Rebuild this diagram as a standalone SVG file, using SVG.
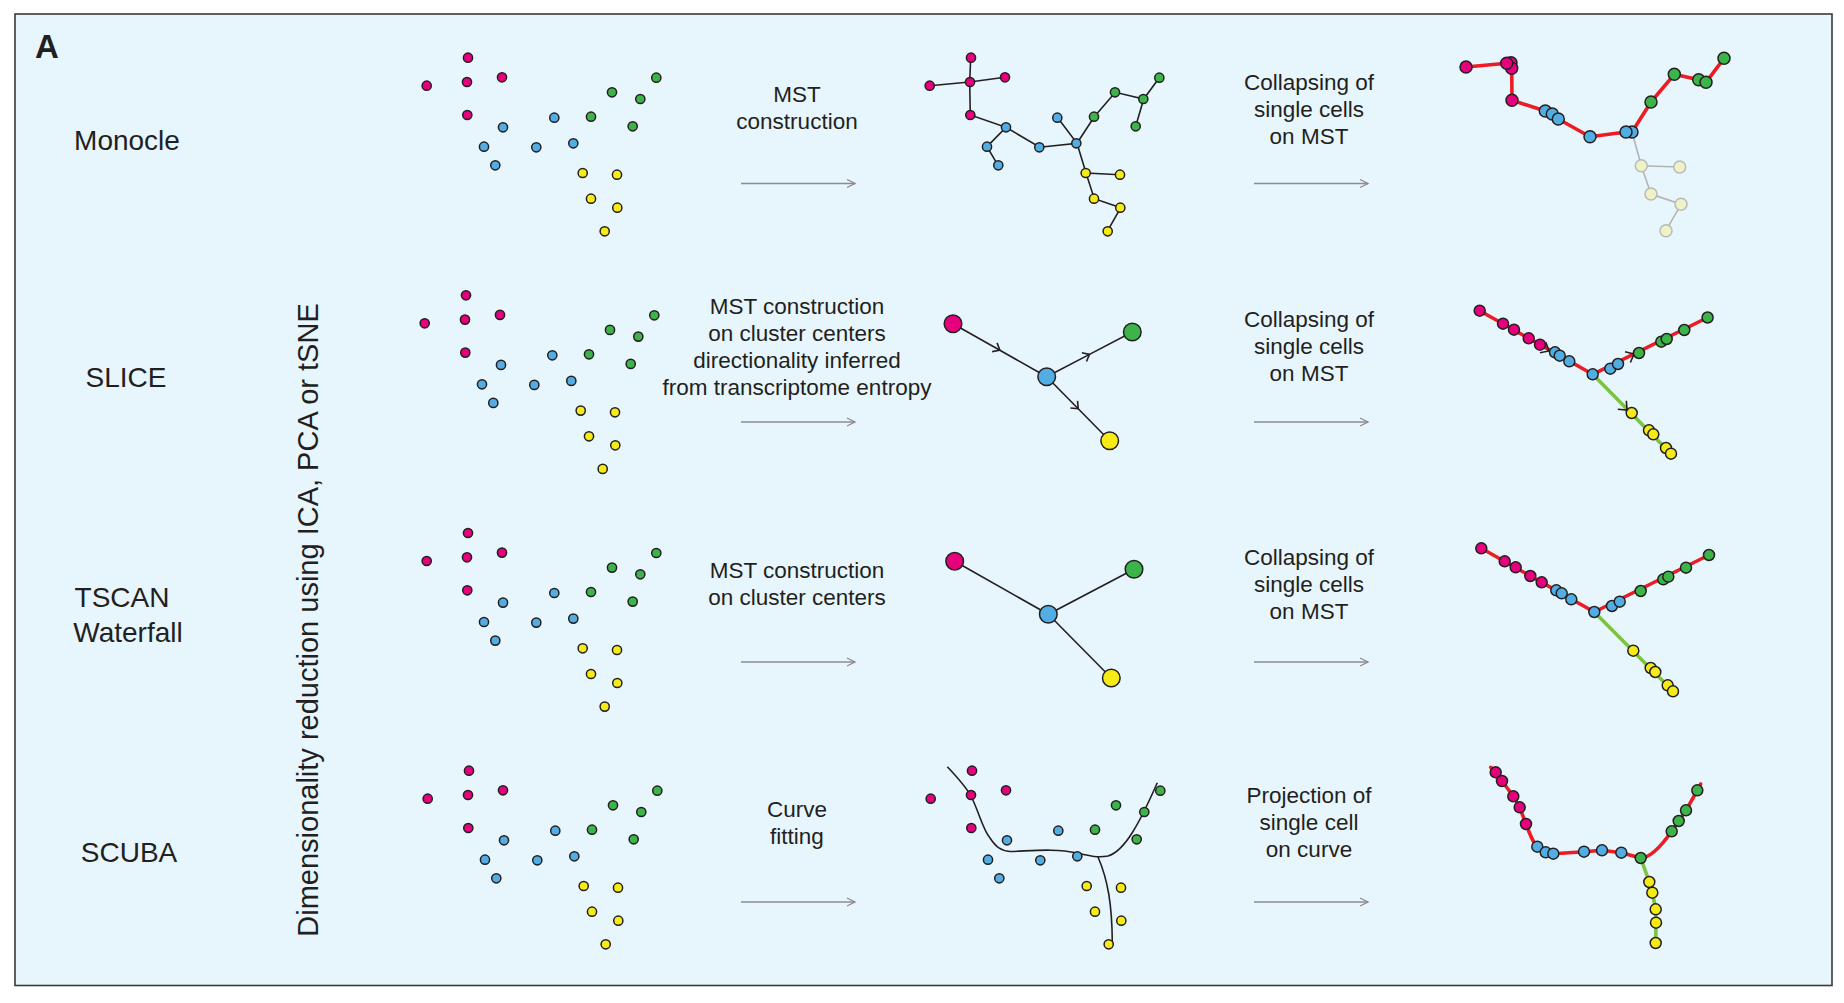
<svg xmlns="http://www.w3.org/2000/svg" xmlns:xlink="http://www.w3.org/1999/xlink" width="1844" height="1003" viewBox="0 0 1844 1003">
<style>
text{font-family:"Liberation Sans",Arial,sans-serif;fill:#231f20}
.lab{font-size:28px;text-anchor:middle}
.mid{font-size:22.5px;text-anchor:middle}
.m{fill:#e6007e}.b{fill:#52ade3}.g{fill:#3cb449}.y{fill:#f6eb16}
.dot circle{stroke:#231f20;stroke-width:1.5}
.edge{stroke:#231f20;stroke-width:1.6;fill:none}
.red{stroke:#ed1c24;stroke-width:3.6;fill:none;stroke-linejoin:round;stroke-linecap:round}
.grn{stroke:#7dc242;stroke-width:3.6;fill:none;stroke-linecap:round}
.arr{stroke:#8c8c8c;stroke-width:1.3;fill:none}
.fade circle{fill:#eef2c6;stroke:#b9b9b9;stroke-width:1.5}
.fline{stroke:#b3b3b3;stroke-width:1.6;fill:none}
.chev{stroke:#231f20;stroke-width:1.6;fill:none}
</style>
<defs>
<marker id="ah" viewBox="0 0 10 10" refX="9" refY="5" markerWidth="10" markerHeight="10" markerUnits="userSpaceOnUse" orient="auto">
<path d="M1,1 L9,5 L1,9" stroke="#8c8c8c" stroke-width="1.3" fill="none"/>
</marker>
<marker id="cv" viewBox="-8 -6 10 12" refX="0" refY="0" markerWidth="10" markerHeight="12" markerUnits="userSpaceOnUse" orient="auto">
<path d="M-6,-5 L0,0 L-6,5" stroke="#231f20" stroke-width="1.6" fill="none"/>
</marker>
<path id="chv" d="M-7,-6 L0,0 L-7,6" class="chev"/>
<g id="cells" class="dot">
<circle class="m" cx="468" cy="57.7" r="4.6"/><circle class="m" cx="426.7" cy="85.7" r="4.6"/><circle class="m" cx="467" cy="82" r="4.6"/><circle class="m" cx="502" cy="77.3" r="4.6"/><circle class="m" cx="467.3" cy="115" r="4.6"/>
<circle class="b" cx="503" cy="127.3" r="4.6"/><circle class="b" cx="484" cy="146.7" r="4.6"/><circle class="b" cx="495.3" cy="165.3" r="4.6"/><circle class="b" cx="536.3" cy="147.3" r="4.6"/><circle class="b" cx="554.3" cy="117.7" r="4.6"/><circle class="b" cx="573.3" cy="143.3" r="4.6"/>
<circle class="g" cx="591" cy="116.7" r="4.6"/><circle class="g" cx="612" cy="92.3" r="4.6"/><circle class="g" cx="640.3" cy="99" r="4.6"/><circle class="g" cx="656.3" cy="77.7" r="4.6"/><circle class="g" cx="632.7" cy="126.3" r="4.6"/>
<circle class="y" cx="582.7" cy="173" r="4.6"/><circle class="y" cx="617" cy="174.7" r="4.6"/><circle class="y" cx="591" cy="198.7" r="4.6"/><circle class="y" cx="617.3" cy="207.7" r="4.6"/><circle class="y" cx="604.7" cy="231.3" r="4.6"/>
</g>
</defs>
<rect x="0" y="0" width="1844" height="1003" fill="#ffffff"/>
<rect id="frame" x="15" y="14" width="1817" height="971.5" fill="#e7f6fd" stroke="#3a3a3a" stroke-width="1.6"/>
<text x="35" y="58" style="font-size:33px;font-weight:bold">A</text>

<g id="labels">
<text class="lab" x="127" y="150">Monocle</text>
<text class="lab" x="126" y="387">SLICE</text>
<text class="lab" x="122" y="607">TSCAN</text>
<text class="lab" x="128" y="642">Waterfall</text>
<text class="lab" x="129" y="862">SCUBA</text>
<text class="lab" transform="translate(318,620) rotate(-90)" style="font-size:29px">Dimensionality reduction using ICA, PCA or tSNE</text>
</g>

<g id="scatter">
<use href="#cells"/>
<use href="#cells" transform="translate(-2,237.6)"/>
<use href="#cells" transform="translate(0,475.3)"/>
<use href="#cells" transform="translate(1,713)"/>
</g>

<g id="step1-text">
<text class="mid" x="797" y="102">MST</text>
<text class="mid" x="797" y="129">construction</text>
<text class="mid" x="797" y="314">MST construction</text>
<text class="mid" x="797" y="341">on cluster centers</text>
<text class="mid" x="797" y="368">directionality inferred</text>
<text class="mid" x="797" y="395">from transcriptome entropy</text>
<text class="mid" x="797" y="578">MST construction</text>
<text class="mid" x="797" y="605">on cluster centers</text>
<text class="mid" x="797" y="817">Curve</text>
<text class="mid" x="797" y="844">fitting</text>
</g>
<g id="step2-text">
<text class="mid" x="1309" y="90">Collapsing of</text>
<text class="mid" x="1309" y="117">single cells</text>
<text class="mid" x="1309" y="144">on MST</text>
<text class="mid" x="1309" y="327">Collapsing of</text>
<text class="mid" x="1309" y="354">single cells</text>
<text class="mid" x="1309" y="381">on MST</text>
<text class="mid" x="1309" y="565">Collapsing of</text>
<text class="mid" x="1309" y="592">single cells</text>
<text class="mid" x="1309" y="619">on MST</text>
<text class="mid" x="1309" y="803">Projection of</text>
<text class="mid" x="1309" y="830">single cell</text>
<text class="mid" x="1309" y="857">on curve</text>
</g>

<g id="connectors">
<line class="arr" x1="741" y1="183.5" x2="855" y2="183.5" marker-end="url(#ah)"/>
<line class="arr" x1="1254" y1="183.5" x2="1368" y2="183.5" marker-end="url(#ah)"/>
<line class="arr" x1="741" y1="422" x2="855" y2="422" marker-end="url(#ah)"/>
<line class="arr" x1="1254" y1="422" x2="1368" y2="422" marker-end="url(#ah)"/>
<line class="arr" x1="741" y1="662" x2="855" y2="662" marker-end="url(#ah)"/>
<line class="arr" x1="1254" y1="662" x2="1368" y2="662" marker-end="url(#ah)"/>
<line class="arr" x1="741" y1="902" x2="855" y2="902" marker-end="url(#ah)"/>
<line class="arr" x1="1254" y1="902" x2="1368" y2="902" marker-end="url(#ah)"/>
</g>

<g id="monocle-mst">
<path class="edge" d="M970.7,57.7 L969.7,82 M929.7,85.7 L969.7,82 L1005,77.3 M969.7,82 L970.3,115 L1006,127.3 L987,146.7 L998,165.3 M1006,127.3 L1039.7,147.3 L1077,143.3 L1057.7,117.7 M1077,143.3 L1094.3,116.7 L1115.3,92.3 L1143.7,99 L1159.3,77.7 M1143.7,99 L1135.7,126.3 M1077,143.3 L1086,173 L1119.7,174.7 M1086,173 L1094.3,198.7 L1120.7,207.7 L1107.3,231.3"/>
<use href="#cells" transform="translate(503,0)"/>
</g>

<g id="monocle-collapsed">
<path class="fline" d="M1632,132 L1641.3,165.7 L1679.7,167 M1641.3,165.7 L1651,194 L1681,204.3 L1666,230.7"/>
<g class="fade">
<circle cx="1641.3" cy="165.7" r="6"/><circle cx="1679.7" cy="167" r="6"/><circle cx="1651" cy="194" r="6"/><circle cx="1681" cy="204.3" r="6"/><circle cx="1666" cy="230.7" r="6"/>
</g>
<path class="red" d="M1466,67 L1506.7,63.3 L1511.7,68.3 L1512,100.3 L1545.3,111 L1552.3,114 L1558.3,119 L1590,136.7 L1626,132 L1632,132 L1651,102 L1674.3,74.3 L1698.7,79.7 L1706,82.3 L1724,58.3"/>
<g class="dot">
<circle class="m" cx="1466" cy="67" r="6"/><circle class="m" cx="1511" cy="62.7" r="6"/><circle class="m" cx="1511.7" cy="68.3" r="6"/><circle class="m" cx="1506.7" cy="63.3" r="6"/><circle class="m" cx="1512" cy="100.3" r="6"/>
<circle class="b" cx="1545.3" cy="111" r="6"/><circle class="b" cx="1552.3" cy="114" r="6"/><circle class="b" cx="1558.3" cy="119" r="6"/><circle class="b" cx="1590" cy="136.7" r="6"/><circle class="b" cx="1632" cy="132" r="6"/><circle class="b" cx="1626" cy="132" r="6"/>
<circle class="g" cx="1651" cy="102" r="6"/><circle class="g" cx="1674.3" cy="74.3" r="6"/><circle class="g" cx="1698.7" cy="79.7" r="6"/><circle class="g" cx="1706" cy="82.3" r="6"/><circle class="g" cx="1724" cy="58.3" r="6"/>
</g>
</g>

<g id="slice-clusters">
<path class="edge" d="M953,323.7 L999.85,350.2 L1046.7,376.7" marker-mid="url(#cv)"/>
<path class="edge" d="M1046.7,376.7 L1089.5,354.35 L1132.3,332" marker-mid="url(#cv)"/>
<path class="edge" d="M1046.7,376.7 L1078.2,408.7 L1109.7,440.7" marker-mid="url(#cv)"/>
<g class="dot">
<circle class="m" cx="953" cy="323.7" r="8.8"/><circle class="b" cx="1046.7" cy="376.7" r="8.8"/><circle class="g" cx="1132.3" cy="332" r="8.8"/><circle class="y" cx="1109.7" cy="440.7" r="8.8"/>
</g>
</g>

<g id="slice-collapsed">
<path class="grn" d="M1592.7,374.3 L1671,453.7"/>
<path class="red" d="M1479.7,310.7 L1592.7,374.3 L1707.6,317.5"/>
<use href="#chv" transform="translate(1549,351) rotate(29.4)"/>
<use href="#chv" transform="translate(1634,354) rotate(-26.4)"/>
<use href="#chv" transform="translate(1627,410) rotate(45.4)"/>
<g class="dot">
<circle class="m" cx="1479.7" cy="310.7" r="5.5"/><circle class="m" cx="1503" cy="323.7" r="5.5"/><circle class="m" cx="1514" cy="329.7" r="5.5"/><circle class="m" cx="1528.7" cy="338.3" r="5.5"/><circle class="m" cx="1540" cy="344.7" r="5.5"/>
<circle class="b" cx="1555" cy="352.3" r="5.5"/><circle class="b" cx="1559.7" cy="355.7" r="5.5"/><circle class="b" cx="1569.3" cy="361.3" r="5.5"/><circle class="b" cx="1592.7" cy="374.3" r="5.5"/><circle class="b" cx="1610.3" cy="368.7" r="5.5"/><circle class="b" cx="1618" cy="364" r="5.5"/>
<circle class="g" cx="1639" cy="353" r="5.5"/><circle class="g" cx="1661.3" cy="341.7" r="5.5"/><circle class="g" cx="1666.7" cy="339" r="5.5"/><circle class="g" cx="1684.3" cy="330" r="5.5"/><circle class="g" cx="1707.6" cy="317.5" r="5.5"/>
<circle class="y" cx="1631.7" cy="413" r="5.5"/><circle class="y" cx="1649" cy="430.3" r="5.5"/><circle class="y" cx="1653.3" cy="434.3" r="5.5"/><circle class="y" cx="1666" cy="448" r="5.5"/><circle class="y" cx="1671" cy="453.7" r="5.5"/>
</g>
</g>

<g id="tscan-clusters">
<path class="edge" d="M954.7,561.3 L1048.3,614.3 L1134,569.3 M1048.3,614.3 L1111.3,678"/>
<g class="dot">
<circle class="m" cx="954.7" cy="561.3" r="8.8"/><circle class="b" cx="1048.3" cy="614.3" r="8.8"/><circle class="g" cx="1134" cy="569.3" r="8.8"/><circle class="y" cx="1111.3" cy="678" r="8.8"/>
</g>
</g>

<g id="tscan-collapsed">
<path class="grn" d="M1594.3,612 L1673,691.3"/>
<path class="red" d="M1481.3,548.3 L1594.3,612 L1709,555"/>
<g class="dot">
<circle class="m" cx="1481.3" cy="548.3" r="5.5"/><circle class="m" cx="1504.7" cy="561.3" r="5.5"/><circle class="m" cx="1515.7" cy="567.3" r="5.5"/><circle class="m" cx="1530.3" cy="576" r="5.5"/><circle class="m" cx="1541.7" cy="582.3" r="5.5"/>
<circle class="b" cx="1556.3" cy="590.3" r="5.5"/><circle class="b" cx="1561.7" cy="593.3" r="5.5"/><circle class="b" cx="1571.3" cy="599.3" r="5.5"/><circle class="b" cx="1594.3" cy="612" r="5.5"/><circle class="b" cx="1612" cy="606" r="5.5"/><circle class="b" cx="1619.7" cy="601.7" r="5.5"/>
<circle class="g" cx="1640.7" cy="591" r="5.5"/><circle class="g" cx="1663.3" cy="579.3" r="5.5"/><circle class="g" cx="1668.3" cy="576.7" r="5.5"/><circle class="g" cx="1686" cy="567.7" r="5.5"/><circle class="g" cx="1709" cy="555" r="5.5"/>
<circle class="y" cx="1633.3" cy="650.7" r="5.5"/><circle class="y" cx="1650.7" cy="668" r="5.5"/><circle class="y" cx="1655.3" cy="672" r="5.5"/><circle class="y" cx="1667.7" cy="685.3" r="5.5"/><circle class="y" cx="1673" cy="691.3" r="5.5"/>
</g>
</g>

<g id="scuba-curve">
<path class="edge" d="M947.3,766.7 C958,778 966,787 971,796 C979,812 983,830 990,838 C996,847 1001,851 1010,851.5 C1030,851 1055,848 1077,853 C1090,856 1098,858 1108,856 C1125,851 1140,822 1157.3,782.7"/>
<path class="edge" d="M1098,857 C1108,880 1112,905 1112.3,942"/>
<use href="#cells" transform="translate(504,713)"/>
</g>

<g id="scuba-projection">
<path class="grn" d="M1640.7,858 L1649.3,882 L1652.3,892.7 L1655.7,909.3 L1656,922.7 L1655.7,943"/>
<path class="red" d="M1490.7,767.3 L1495.7,772.3 L1502,781 L1513.3,796.3 L1519.7,807.3 L1526,824 C1530,835 1533,843 1537.3,846.7 L1545.7,852.3 L1553.3,853.7 L1584,851.7 L1602,850.3 L1621.3,852.7 L1640.7,858 C1650,858 1660,848 1671.7,831.3 L1678.7,821 L1686,810.3 L1697.3,790.3 L1700.7,784"/>
<g class="dot">
<circle class="m" cx="1495.7" cy="772.3" r="5.5"/><circle class="m" cx="1502" cy="781" r="5.5"/><circle class="m" cx="1513.3" cy="796.3" r="5.5"/><circle class="m" cx="1519.7" cy="807.3" r="5.5"/><circle class="m" cx="1526" cy="824" r="5.5"/>
<circle class="b" cx="1537.3" cy="846.7" r="5.5"/><circle class="b" cx="1545.7" cy="852.3" r="5.5"/><circle class="b" cx="1553.3" cy="853.7" r="5.5"/><circle class="b" cx="1584" cy="851.7" r="5.5"/><circle class="b" cx="1602" cy="850.3" r="5.5"/><circle class="b" cx="1621.3" cy="852.7" r="5.5"/>
<circle class="g" cx="1640.7" cy="858" r="5.5"/><circle class="g" cx="1671.7" cy="831.3" r="5.5"/><circle class="g" cx="1678.7" cy="821" r="5.5"/><circle class="g" cx="1686" cy="810.3" r="5.5"/><circle class="g" cx="1697.3" cy="790.3" r="5.5"/>
<circle class="y" cx="1649.3" cy="882" r="5.5"/><circle class="y" cx="1652.3" cy="892.7" r="5.5"/><circle class="y" cx="1655.7" cy="909.3" r="5.5"/><circle class="y" cx="1656" cy="922.7" r="5.5"/><circle class="y" cx="1655.7" cy="943" r="5.5"/>
</g>
</g>
</svg>
